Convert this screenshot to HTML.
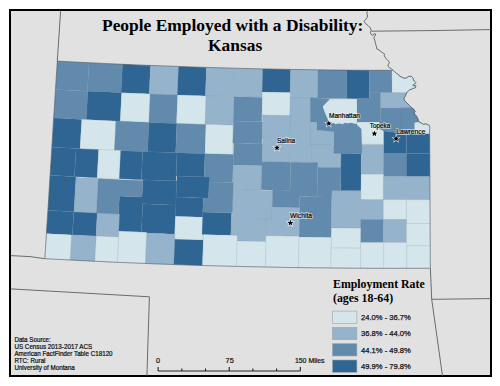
<!DOCTYPE html>
<html><head><meta charset="utf-8"><style>
html,body{margin:0;padding:0;background:#fff;}
body{width:500px;height:386px;position:relative;overflow:hidden;font-family:"Liberation Sans",sans-serif;}
#frame{position:absolute;left:9px;top:8.5px;width:479px;height:364.5px;border:2.2px solid #000;background:#e1e1e1;box-sizing:content-box;}
svg{position:absolute;left:0;top:0;}
.t{position:absolute;font-family:"Liberation Serif",serif;font-weight:bold;color:#000;white-space:nowrap;}
.s{position:absolute;font-family:"Liberation Sans",sans-serif;color:#222;white-space:nowrap;}
</style></head><body>
<div id="frame"></div>
<svg width="500" height="386" viewBox="0 0 500 386">
<g fill="none" stroke="#50565a" stroke-width="0.85">
<path d="M57.3,61.1 L60.6,11.0"/><path d="M11.0,255.6 L30.0,256.6 L44.8,258.7"/><path d="M11.0,288.9 L149.4,296.8 L146.9,376.0"/><path d="M371.6,31.2 L430.0,30.6 L490.4,29.6"/><path d="M430.4,268.3 L431.7,299.3 L442.5,376.0"/><path d="M431.7,299.3 L490.0,298.6"/><path d="M368.7,10.1 L367.4,11.7 L366.6,13.0 L367.4,14.6 L367.4,17.1 L365.8,19.2 L364.1,21.3 L365.8,23.8 L368.3,25.8 L370.4,27.9 L371.2,30.4 L370.4,32.5 L371.2,34.6 L372.8,35.4 L374.1,33.7 L375.7,34.1 L375.3,35.8 L374.1,36.6 L373.8,38.1 L374.8,40.2 L375.4,43.3 L376.4,46.4 L376.9,49.0 L379.0,50.0 L381.1,51.6 L383.1,53.1 L384.7,54.2 L384.2,55.7 L385.2,57.3 L386.8,59.4 L388.3,60.9 L389.4,62.5 L388.3,64.5 L387.8,66.1 L389.4,67.6 L391.4,68.8 L393.8,70.8 L396.2,73.2 L398.6,74.8 L399.8,76.4 L401.8,77.2 L404.2,78.4 L406.6,78.0 L408.6,76.4 L411.4,76.4 L413.0,78.0 L413.4,80.4 L415.0,81.6 L415.8,82.8 L415.0,83.6 L413.4,84.4 L412.6,85.2 L413.8,86.0 L415.8,85.6 L415.4,87.6 L413.0,88.4 L410.6,89.6 L409.8,89.4 L408.2,91.0 L407.0,92.2 L406.2,93.8 L405.4,95.8 L404.2,97.4 L403.8,99.0 L404.6,100.6 L406.2,102.2 L408.2,104.2 L410.2,106.2 L412.2,108.2 L414.2,109.8 L415.0,111.4 L414.2,113.0 L414.2,114.4 L415.0,114.4 L416.6,116.4 L417.8,118.8 L418.2,120.8 L419.0,122.0 L421.4,123.2 L423.4,124.4 L425.4,124.0 L427.0,124.4 L428.6,125.2 L429.8,126.0"/>
</g>
<g stroke="#70889a" stroke-width="0.45" stroke-opacity="0.35">
<path d="M57.3,61.1 L65.2,61.5 L73.1,61.9 L81.1,62.3 L89.0,62.7 L87.4,91.2 L79.4,90.8 L71.4,90.3 L63.5,89.9 L55.5,89.5Z" fill="#618aad"/>
<path d="M89.0,62.7 L95.7,63.1 L102.4,63.4 L109.1,63.7 L115.8,64.0 L122.5,64.3 L121.0,92.7 L114.3,92.4 L107.6,92.1 L100.8,91.8 L94.1,91.5 L87.4,91.2Z" fill="#618aad"/>
<path d="M122.5,64.3 L129.5,64.6 L136.5,64.9 L143.5,65.2 L150.5,65.4 L149.2,93.9 L142.1,93.6 L135.1,93.3 L128.1,93.0 L121.0,92.7Z" fill="#2e6593"/>
<path d="M150.5,65.4 L157.5,65.7 L164.5,66.0 L171.5,66.2 L178.5,66.5 L177.3,94.9 L170.3,94.7 L163.3,94.4 L156.2,94.2 L149.2,93.9Z" fill="#95b4cb"/>
<path d="M178.5,66.5 L185.5,66.7 L192.5,67.0 L199.4,67.2 L206.4,67.4 L205.4,95.9 L198.4,95.6 L191.4,95.4 L184.3,95.2 L177.3,94.9Z" fill="#2e6593"/>
<path d="M206.4,67.4 L213.4,67.6 L220.4,67.8 L227.3,68.0 L234.3,68.2 L233.4,96.7 L226.4,96.5 L219.4,96.3 L212.4,96.1 L205.4,95.9Z" fill="#95b4cb"/>
<path d="M234.3,68.2 L241.4,68.4 L248.5,68.5 L255.6,68.7 L262.7,68.9 L262.0,97.4 L254.9,97.2 L247.7,97.0 L240.6,96.8 L233.4,96.7Z" fill="#95b4cb"/>
<path d="M262.7,68.9 L269.7,69.0 L276.7,69.2 L283.7,69.3 L290.6,69.4 L290.2,92.6 L283.2,92.5 L276.1,92.3 L269.1,92.2 L262.1,92.1Z" fill="#2e6593"/>
<path d="M290.6,69.4 L297.5,69.5 L304.3,69.6 L311.2,69.7 L318.0,69.8 L317.6,98.3 L310.7,98.2 L303.8,98.1 L296.9,98.0 L290.1,97.9Z" fill="#95b4cb"/>
<path d="M318.0,69.8 L325.3,69.9 L332.5,70.0 L339.8,70.1 L347.0,70.1 L346.7,98.6 L339.4,98.6 L332.1,98.5 L324.9,98.4 L317.6,98.3Z" fill="#618aad"/>
<path d="M347.0,70.1 L354.5,70.2 L362.0,70.2 L369.5,70.3 L369.3,98.8 L361.8,98.7 L354.3,98.7 L346.7,98.6Z" fill="#2e6593"/>
<path d="M369.5,70.3 L377.0,70.3 L384.5,70.3 L392.0,70.3 L392.0,92.8 L384.4,92.8 L376.9,92.8 L369.4,92.8Z" fill="#618aad"/>
<path d="M55.5,89.5 L62.0,89.9 L68.4,90.2 L74.9,90.5 L81.4,90.9 L87.9,91.2 L86.2,119.6 L79.7,119.3 L73.2,119.0 L66.7,118.6 L60.2,118.3 L53.7,117.9Z" fill="#618aad"/>
<path d="M87.9,91.2 L94.6,91.5 L101.4,91.8 L108.1,92.1 L114.9,92.4 L121.6,92.7 L120.2,121.2 L113.4,120.9 L106.6,120.6 L99.8,120.3 L93.0,119.9 L86.2,119.6Z" fill="#2e6593"/>
<path d="M121.6,92.7 L128.8,93.1 L135.9,93.4 L143.0,93.6 L150.2,93.9 L148.9,122.4 L141.7,122.1 L134.5,121.8 L127.4,121.5 L120.2,121.2Z" fill="#d4e6eb"/>
<path d="M150.2,93.9 L157.0,94.2 L163.9,94.5 L170.8,94.7 L177.6,95.0 L176.5,123.4 L169.6,123.2 L162.7,122.9 L155.8,122.7 L148.9,122.4Z" fill="#618aad"/>
<path d="M177.6,95.0 L184.8,95.2 L191.9,95.4 L199.0,95.7 L206.1,95.9 L205.1,124.4 L197.9,124.1 L190.8,123.9 L183.6,123.7 L176.5,123.4Z" fill="#d4e6eb"/>
<path d="M206.1,95.9 L213.1,96.1 L220.1,96.3 L227.1,96.5 L234.0,96.7 L233.2,125.2 L226.2,125.0 L219.1,124.8 L212.1,124.6 L205.1,124.4Z" fill="#95b4cb"/>
<path d="M234.0,96.7 L241.1,96.9 L248.2,97.0 L255.2,97.2 L262.3,97.4 L261.7,121.6 L254.6,121.5 L247.5,121.3 L240.4,121.1 L233.3,121.0Z" fill="#618aad"/>
<path d="M262.4,92.1 L269.4,92.2 L276.3,92.3 L283.3,92.5 L290.3,92.6 L289.8,115.6 L282.8,115.5 L275.8,115.3 L268.8,115.2 L261.9,115.0Z" fill="#d4e6eb"/>
<path d="M290.2,97.9 L297.1,98.0 L304.1,98.1 L311.1,98.2 L310.6,127.5 L303.6,127.4 L296.6,127.3 L289.6,127.2Z" fill="#95b4cb"/>
<path d="M53.7,117.9 L60.7,118.3 L67.7,118.7 L74.7,119.0 L81.7,119.4 L80.0,148.7 L73.0,148.3 L65.9,148.0 L58.9,147.6 L51.9,147.2Z" fill="#2e6593"/>
<path d="M81.7,119.4 L88.5,119.7 L95.4,120.1 L102.2,120.4 L109.1,120.7 L115.9,121.0 L114.4,150.3 L107.6,150.0 L100.7,149.7 L93.8,149.4 L86.9,149.0 L80.0,148.7Z" fill="#d4e6eb"/>
<path d="M115.9,121.0 L122.5,121.3 L129.1,121.6 L135.7,121.9 L142.3,122.1 L148.9,122.4 L147.6,151.7 L140.9,151.5 L134.3,151.2 L127.7,150.9 L121.1,150.6 L114.4,150.3Z" fill="#618aad"/>
<path d="M148.9,122.4 L155.9,122.7 L162.9,122.9 L169.9,123.2 L176.9,123.4 L175.7,152.8 L168.7,152.5 L161.6,152.3 L154.6,152.0 L147.6,151.7Z" fill="#2e6593"/>
<path d="M176.9,123.4 L184.1,123.7 L191.4,123.9 L198.6,124.2 L205.9,124.4 L204.9,153.7 L197.6,153.5 L190.3,153.3 L183.0,153.0 L175.7,152.8Z" fill="#618aad"/>
<path d="M205.9,124.4 L212.7,124.6 L219.5,124.8 L226.3,125.0 L233.1,125.2 L232.2,154.5 L225.4,154.3 L218.5,154.1 L211.7,153.9 L204.9,153.7Z" fill="#d4e6eb"/>
<path d="M233.5,121.0 L240.7,121.2 L247.9,121.3 L255.2,121.5 L262.4,121.7 L261.8,143.7 L254.6,143.5 L247.3,143.3 L240.1,143.2 L232.8,143.0Z" fill="#618aad"/>
<path d="M262.6,115.1 L269.5,115.2 L276.4,115.3 L283.3,115.5 L290.2,115.6 L289.7,138.6 L282.8,138.5 L275.9,138.4 L268.9,138.2 L262.0,138.1Z" fill="#95b4cb"/>
<path d="M289.8,127.2 L297.4,127.3 L305.0,127.4 L312.6,127.6 L312.1,162.6 L304.4,162.4 L296.7,162.3 L289.1,162.2Z" fill="#95b4cb"/>
<path d="M311.2,121.7 L318.4,121.8 L325.5,121.9 L332.7,122.0 L332.4,145.5 L325.2,145.4 L318.0,145.3 L310.8,145.2Z" fill="#95b4cb"/>
<path d="M406.4,133.7 L414.1,133.7 L421.9,133.7 L429.6,133.7 L429.8,153.5 L422.0,153.5 L414.2,153.5 L406.4,153.5Z" fill="#2e6593"/>
<path d="M51.9,147.2 L60.0,147.6 L68.0,148.1 L76.1,148.5 L74.5,176.7 L66.4,176.2 L58.2,175.8 L50.1,175.4Z" fill="#2e6593"/>
<path d="M76.1,148.5 L83.6,148.9 L91.1,149.2 L98.6,149.6 L97.1,177.8 L89.5,177.4 L82.0,177.0 L74.5,176.7Z" fill="#2e6593"/>
<path d="M98.6,149.6 L106.0,149.9 L113.4,150.3 L120.7,150.6 L119.3,178.8 L111.9,178.5 L104.5,178.1 L97.1,177.8Z" fill="#d4e6eb"/>
<path d="M120.7,150.6 L128.1,150.9 L135.4,151.2 L142.7,151.5 L141.4,179.7 L134.0,179.4 L126.7,179.1 L119.3,178.8Z" fill="#2e6593"/>
<path d="M142.7,151.5 L149.6,151.8 L156.4,152.1 L163.3,152.3 L170.2,152.6 L177.0,152.8 L175.9,181.0 L169.0,180.8 L162.1,180.5 L155.2,180.3 L148.3,180.0 L141.4,179.7Z" fill="#2e6593"/>
<path d="M177.0,152.8 L184.0,153.1 L191.0,153.3 L198.0,153.5 L205.0,153.7 L204.2,176.9 L197.1,176.7 L190.1,176.5 L183.1,176.3 L176.1,176.0Z" fill="#2e6593"/>
<path d="M205.0,153.7 L212.1,153.9 L219.2,154.1 L226.3,154.3 L233.4,154.5 L232.6,182.7 L225.4,182.6 L218.3,182.4 L211.1,182.2 L204.0,182.0Z" fill="#618aad"/>
<path d="M233.8,143.0 L241.0,143.2 L248.2,143.4 L255.4,143.5 L262.6,143.7 L262.0,165.7 L254.8,165.5 L247.6,165.4 L240.3,165.2 L233.1,165.0Z" fill="#618aad"/>
<path d="M262.7,138.1 L269.4,138.2 L276.1,138.4 L282.8,138.5 L289.5,138.6 L289.1,162.2 L282.3,162.1 L275.6,162.0 L268.8,161.8 L262.1,161.7Z" fill="#95b4cb"/>
<path d="M312.3,145.3 L319.5,145.3 L326.7,145.4 L334.0,145.5 L341.2,145.6 L341.0,167.6 L333.7,167.5 L326.5,167.4 L319.2,167.3 L312.0,167.3Z" fill="#95b4cb"/>
<path d="M341.1,153.3 L347.8,153.3 L354.5,153.4 L361.2,153.4 L360.9,190.8 L354.2,190.8 L347.5,190.7 L340.7,190.7Z" fill="#2e6593"/>
<path d="M361.3,144.4 L368.7,144.5 L376.1,144.5 L383.6,144.5 L383.5,174.3 L376.0,174.3 L368.5,174.3 L361.1,174.2Z" fill="#95b4cb"/>
<path d="M383.6,153.5 L391.2,153.5 L398.8,153.5 L406.4,153.5 L406.4,176.6 L398.8,176.6 L391.1,176.6 L383.5,176.6Z" fill="#618aad"/>
<path d="M406.4,153.5 L414.2,153.5 L422.0,153.5 L429.8,153.5 L429.9,176.6 L422.1,176.6 L414.2,176.6 L406.4,176.6Z" fill="#2e6593"/>
<path d="M50.1,175.4 L56.6,175.7 L63.1,176.1 L69.5,176.4 L76.0,176.7 L74.0,211.8 L67.5,211.5 L61.0,211.1 L54.4,210.8 L47.9,210.4Z" fill="#2e6593"/>
<path d="M76.0,177.5 L83.4,177.9 L90.8,178.3 L98.3,178.6 L96.4,213.0 L88.9,212.7 L81.5,212.3 L74.0,211.9Z" fill="#95b4cb"/>
<path d="M119.4,196.0 L127.3,196.4 L135.2,196.7 L143.1,197.0 L141.4,232.1 L133.5,231.8 L125.6,231.5 L117.6,231.1Z" fill="#2e6593"/>
<path d="M142.8,179.8 L149.6,180.1 L156.5,180.3 L163.3,180.6 L170.1,180.8 L176.9,181.1 L176.0,205.1 L169.1,204.9 L162.3,204.6 L155.4,204.4 L148.6,204.1 L141.7,203.8Z" fill="#2e6593"/>
<path d="M142.7,203.9 L149.4,204.1 L156.0,204.4 L162.7,204.6 L169.3,204.9 L176.0,205.1 L174.8,234.1 L168.1,233.9 L161.5,233.6 L154.8,233.4 L148.1,233.1 L141.4,232.8Z" fill="#2e6593"/>
<path d="M176.9,176.1 L185.0,176.3 L193.1,176.6 L201.2,176.9 L209.3,177.1 L208.6,198.1 L200.5,197.9 L192.4,197.6 L184.2,197.4 L176.1,197.1Z" fill="#2e6593"/>
<path d="M176.1,197.1 L182.9,197.3 L189.7,197.5 L196.5,197.8 L203.3,198.0 L202.7,217.1 L195.8,216.9 L189.0,216.7 L182.2,216.4 L175.3,216.2Z" fill="#2e6593"/>
<path d="M233.1,165.0 L240.3,165.2 L247.5,165.4 L254.6,165.5 L261.8,165.7 L261.2,190.3 L254.0,190.2 L246.8,190.0 L239.6,189.8 L232.4,189.6Z" fill="#95b4cb"/>
<path d="M261.9,161.7 L269.1,161.8 L276.3,162.0 L283.5,162.1 L290.7,162.2 L290.1,190.2 L282.9,190.1 L275.7,190.0 L268.4,189.9 L261.2,189.7Z" fill="#618aad"/>
<path d="M290.7,162.2 L297.4,162.3 L304.2,162.4 L310.9,162.5 L317.6,162.6 L317.1,196.8 L310.4,196.7 L303.6,196.6 L296.8,196.6 L290.0,196.4Z" fill="#618aad"/>
<path d="M317.6,167.3 L325.4,167.4 L333.1,167.5 L341.0,167.6 L340.6,197.1 L332.8,197.0 L325.0,196.9 L317.1,196.8Z" fill="#618aad"/>
<path d="M233.1,189.7 L241.0,189.9 L248.9,190.0 L256.8,190.2 L264.7,190.4 L272.6,190.5 L272.0,219.1 L264.0,219.0 L256.1,218.8 L248.1,218.7 L240.2,218.5 L232.2,218.3Z" fill="#95b4cb"/>
<path d="M272.6,189.9 L279.4,190.1 L286.2,190.2 L292.9,190.3 L299.7,190.4 L299.4,207.8 L292.6,207.7 L285.8,207.6 L279.0,207.5 L272.2,207.3Z" fill="#618aad"/>
<path d="M361.1,174.2 L368.5,174.3 L376.0,174.3 L383.5,174.3 L383.4,199.7 L375.9,199.7 L368.4,199.7 L360.9,199.6Z" fill="#d4e6eb"/>
<path d="M383.5,176.6 L391.1,176.6 L398.8,176.6 L406.4,176.6 L406.5,199.7 L398.8,199.7 L391.1,199.7 L383.4,199.7Z" fill="#95b4cb"/>
<path d="M406.4,176.6 L414.2,176.6 L422.1,176.6 L429.9,176.6 L430.0,199.7 L422.2,199.7 L414.3,199.7 L406.5,199.7Z" fill="#95b4cb"/>
<path d="M47.9,210.4 L54.4,210.8 L60.8,211.1 L67.3,211.5 L73.8,211.8 L72.4,234.9 L65.9,234.6 L59.4,234.3 L52.9,233.9 L46.4,233.6Z" fill="#2e6593"/>
<path d="M73.8,211.9 L81.6,212.3 L89.4,212.7 L97.2,213.1 L96.0,236.1 L88.1,235.7 L80.3,235.3 L72.4,234.9Z" fill="#2e6593"/>
<path d="M97.2,213.1 L104.7,213.4 L112.2,213.8 L119.6,214.1 L118.5,237.1 L111.0,236.7 L103.5,236.4 L96.0,236.0Z" fill="#95b4cb"/>
<path d="M175.3,216.2 L182.4,216.5 L189.6,216.7 L196.7,216.9 L203.8,217.1 L203.0,240.1 L195.8,239.9 L188.7,239.7 L181.5,239.4 L174.4,239.2Z" fill="#d4e6eb"/>
<path d="M202.8,212.0 L210.0,212.2 L217.2,212.4 L224.3,212.6 L231.5,212.8 L230.8,235.2 L223.6,235.1 L216.4,234.9 L209.2,234.7 L202.0,234.5Z" fill="#2e6593"/>
<path d="M231.3,218.3 L238.3,218.4 L245.2,218.6 L252.1,218.8 L259.1,218.9 L266.0,219.0 L265.5,241.6 L258.5,241.5 L251.5,241.3 L244.6,241.2 L237.6,241.0 L230.6,240.8Z" fill="#95b4cb"/>
<path d="M299.6,196.6 L307.6,196.7 L315.7,196.8 L323.7,196.9 L331.7,197.0 L331.2,237.4 L323.1,237.3 L315.0,237.2 L307.0,237.1 L298.9,237.0Z" fill="#618aad"/>
<path d="M331.8,190.6 L339.1,190.7 L346.3,190.7 L353.6,190.8 L360.8,190.8 L360.6,228.2 L353.3,228.2 L346.0,228.1 L338.7,228.1 L331.4,228.0Z" fill="#95b4cb"/>
<path d="M360.8,199.6 L368.3,199.7 L375.9,199.7 L383.4,199.7 L383.4,219.5 L375.8,219.5 L368.2,219.5 L360.6,219.4Z" fill="#95b4cb"/>
<path d="M383.4,199.7 L391.1,199.7 L398.8,199.7 L406.5,199.7 L406.5,219.5 L398.8,219.5 L391.1,219.5 L383.4,219.5Z" fill="#d4e6eb"/>
<path d="M406.5,199.7 L414.3,199.7 L422.2,199.7 L430.0,199.7 L430.1,223.5 L422.2,223.5 L414.4,223.5 L406.5,223.5Z" fill="#d4e6eb"/>
<path d="M360.6,219.4 L368.2,219.5 L375.8,219.5 L383.4,219.5 L383.3,242.6 L375.7,242.6 L368.1,242.6 L360.5,242.5Z" fill="#618aad"/>
<path d="M383.4,219.5 L391.1,219.5 L398.8,219.5 L406.5,219.5 L406.5,242.6 L398.8,242.6 L391.0,242.6 L383.3,242.6Z" fill="#95b4cb"/>
<path d="M406.5,223.5 L414.4,223.5 L422.2,223.5 L430.1,223.5 L430.3,245.9 L422.3,245.9 L414.4,245.9 L406.5,245.9Z" fill="#d4e6eb"/>
<path d="M331.4,228.0 L338.7,228.1 L346.0,228.1 L353.3,228.2 L360.6,228.2 L360.4,248.2 L353.1,248.2 L345.8,248.1 L338.4,248.1 L331.1,248.0Z" fill="#d4e6eb"/>
<path d="M46.4,233.6 L52.7,233.9 L59.1,234.2 L65.4,234.6 L71.7,234.9 L70.2,260.0 L63.9,259.7 L57.5,259.4 L51.2,259.0 L44.8,258.7Z" fill="#d4e6eb"/>
<path d="M71.7,234.9 L79.9,235.3 L88.1,235.7 L96.3,236.1 L94.9,261.3 L86.7,260.9 L78.4,260.5 L70.2,260.0Z" fill="#95b4cb"/>
<path d="M96.3,236.0 L103.7,236.4 L111.2,236.7 L118.7,237.1 L117.4,262.3 L109.9,262.0 L102.4,261.6 L94.9,261.3Z" fill="#d4e6eb"/>
<path d="M119.0,231.2 L125.9,231.5 L132.9,231.8 L139.8,232.1 L146.8,232.3 L145.4,263.5 L138.4,263.2 L131.4,262.9 L124.4,262.6 L117.4,262.3Z" fill="#d4e6eb"/>
<path d="M146.8,233.0 L153.8,233.3 L160.9,233.6 L168.0,233.9 L175.0,234.1 L173.8,264.6 L166.7,264.3 L159.6,264.0 L152.5,263.8 L145.4,263.5Z" fill="#95b4cb"/>
<path d="M174.8,239.2 L181.9,239.4 L189.0,239.7 L196.2,239.9 L203.3,240.1 L202.4,265.5 L195.2,265.3 L188.1,265.0 L180.9,264.8 L173.8,264.6Z" fill="#2e6593"/>
<path d="M203.5,234.5 L210.3,234.7 L217.0,234.9 L223.8,235.1 L230.6,235.2 L237.4,235.4 L236.5,266.4 L229.6,266.2 L222.8,266.0 L216.0,265.9 L209.2,265.7 L202.4,265.5Z" fill="#d4e6eb"/>
<path d="M237.2,241.0 L244.4,241.2 L251.6,241.3 L258.9,241.5 L266.1,241.6 L265.5,267.0 L258.2,266.9 L251.0,266.7 L243.7,266.6 L236.5,266.4Z" fill="#d4e6eb"/>
<path d="M266.2,235.5 L272.8,235.7 L279.4,235.8 L286.0,235.9 L292.5,236.0 L299.1,236.1 L298.5,267.6 L291.9,267.5 L285.3,267.4 L278.7,267.3 L272.1,267.2 L265.5,267.0Z" fill="#d4e6eb"/>
<path d="M299.1,237.0 L307.1,237.1 L315.1,237.2 L323.2,237.3 L331.2,237.4 L330.9,268.0 L322.8,267.9 L314.7,267.8 L306.6,267.7 L298.5,267.6Z" fill="#d4e6eb"/>
<path d="M331.1,248.0 L338.5,248.1 L345.9,248.1 L353.3,248.2 L360.7,248.2 L360.6,268.2 L353.2,268.2 L345.7,268.1 L338.3,268.1 L330.9,268.0Z" fill="#d4e6eb"/>
<path d="M360.8,242.5 L368.5,242.6 L376.1,242.6 L383.8,242.6 L383.7,268.3 L376.0,268.3 L368.3,268.3 L360.6,268.2Z" fill="#d4e6eb"/>
<path d="M383.8,242.6 L391.5,242.6 L399.1,242.6 L406.8,242.6 L406.8,268.3 L399.1,268.3 L391.4,268.3 L383.7,268.3Z" fill="#d4e6eb"/>
<path d="M406.8,245.9 L414.6,245.9 L422.4,245.9 L430.3,245.9 L430.4,268.3 L422.5,268.3 L414.7,268.3 L406.8,268.3Z" fill="#d4e6eb"/>
<path d="M98.3,178.6 L105.7,179.0 L113.1,179.3 L120.5,179.7 L127.9,180.0 L135.4,180.3 L142.8,180.6 L142.0,197.0 L134.5,196.7 L126.9,196.4 L119.4,196.0 L118.5,214.1 L111.1,213.7 L103.8,213.4 L96.4,213.0Z" fill="#618aad"/>
<path d="M209.2,182.1 L217.2,182.3 L225.2,182.6 L233.3,182.8 L232.4,212.8 L225.0,212.6 L217.6,212.4 L210.2,212.2 L202.8,212.0 L203.3,198.0 L208.6,198.1Z" fill="#618aad"/>
<path d="M272.2,207.3 L279.1,207.5 L286.0,207.6 L292.9,207.7 L299.8,207.8 L299.3,236.1 L292.6,236.0 L285.8,235.9 L279.1,235.8 L272.4,235.7 L265.6,235.5 L266.0,219.0 L272.0,219.1Z" fill="#95b4cb"/>
<path d="M357.0,98.3 L369.5,98.3 L369.5,92.5 L380.7,92.5 L380.7,122.2 L357.0,122.2Z" fill="#618aad"/>
<path d="M310.4,97.6 L330.0,99.1 L322.8,106.4 L324.9,112.6 L329.0,122.0 L333.8,124.0 L333.8,131.8 L317.0,130.0 L317.0,122.0 L310.4,122.0Z" fill="#618aad"/>
<path d="M326.4,123.0 L357.0,123.0 L361.5,129.0 L362.0,153.4 L333.8,153.4 L333.8,131.8Z" fill="#618aad"/>
<path d="M330.0,99.1 L357.0,99.1 L357.0,121.4 L357.0,124.2 L353.5,123.5 L350.6,122.8 L347.8,123.5 L344.9,122.8 L342.8,124.2 L339.2,123.5 L335.7,124.2 L332.8,122.8 L330.0,123.5 L329.0,122.0 L324.9,112.6 L322.8,106.4Z" fill="#d4e6eb"/>
<path d="M310.4,122.0 L317.0,122.0 L317.0,130.0 L333.8,131.8 L333.8,144.6 L310.4,144.6Z" fill="#95b4cb"/>
<path d="M357.0,122.0 L379.5,122.0 L379.5,128.5 L384.0,131.0 L384.0,144.2 L362.0,144.2 L361.5,129.0 L357.0,125.0Z" fill="#d4e6eb"/>
<path d="M380.7,107.8 L401.0,107.8 L401.0,134.5 L397.0,133.5 L393.0,132.0 L388.0,131.5 L384.0,131.0 L379.5,128.5 L379.5,121.4 L380.7,121.4Z" fill="#618aad"/>
<path d="M379.5,128.5 L384.0,131.0 L388.0,131.5 L393.0,132.0 L397.0,133.5 L401.0,134.5 L406.3,135.0 L406.3,153.4 L383.8,153.4 L383.8,131.0Z" fill="#2e6593"/>
<path d="M391.8,69.6 L393.8,70.8 L396.2,73.2 L398.6,74.8 L399.8,76.4 L401.8,77.2 L404.2,78.4 L406.6,78.0 L408.6,76.4 L411.4,76.4 L413.0,78.0 L413.4,80.4 L415.0,81.6 L415.8,82.8 L415.0,83.6 L413.4,84.4 L412.6,85.2 L413.8,86.0 L415.8,85.6 L415.4,87.6 L413.0,88.4 L410.6,89.6 L409.8,89.4 L408.2,91.0 L407.0,92.2 L406.6,92.8 L392.0,92.6Z" fill="#d4e6eb"/>
<path d="M380.7,92.6 L406.6,92.8 L406.2,93.8 L405.4,95.8 L404.2,97.4 L403.8,99.0 L404.6,100.6 L406.2,102.2 L408.2,104.2 L410.2,106.2 L412.2,108.2 L380.7,108.0Z" fill="#95b4cb"/>
<path d="M401.0,107.8 L412.2,107.8 L414.2,109.8 L415.0,111.4 L414.2,113.0 L414.2,114.4 L415.0,114.4 L416.6,116.4 L417.8,118.8 L418.2,120.8 L419.0,122.0 L414.6,122.8 L414.6,133.4 L406.3,135.0 L401.0,134.5Z" fill="#618aad"/>
<path d="M414.6,122.8 L419.0,122.0 L421.4,123.2 L423.4,124.4 L425.4,124.0 L427.0,124.4 L428.6,125.2 L429.8,126.0 L429.8,133.4 L414.6,133.4Z" fill="#d4e6eb"/>
</g>
<path d="M57.3,61.1 L65.7,61.5 L74.1,62.0 L82.4,62.4 L90.8,62.8 L99.2,63.2 L107.6,63.6 L116.0,64.0 L124.3,64.4 L132.7,64.7 L141.1,65.1 L149.5,65.4 L157.9,65.7 L166.2,66.0 L174.6,66.3 L183.0,66.6 L191.3,66.9 L199.7,67.2 L208.0,67.4 L216.4,67.7 L224.8,67.9 L233.1,68.2 L241.5,68.4 L249.8,68.6 L258.2,68.8 L266.5,68.9 L274.9,69.1 L283.2,69.3 L291.6,69.4 L299.9,69.6 L308.3,69.7 L316.6,69.8 L325.0,69.9 L333.3,70.0 L341.7,70.1 L350.1,70.2 L358.5,70.2 L366.9,70.3 L375.2,70.3 L383.6,70.3 L392.0,70.3 L393.8,70.8 L396.2,73.2 L398.6,74.8 L399.8,76.4 L401.8,77.2 L404.2,78.4 L406.6,78.0 L408.6,76.4 L411.4,76.4 L413.0,78.0 L413.4,80.4 L415.0,81.6 L415.8,82.8 L415.0,83.6 L413.4,84.4 L412.6,85.2 L413.8,86.0 L415.8,85.6 L415.4,87.6 L413.0,88.4 L410.6,89.6 L409.8,89.4 L408.2,91.0 L407.0,92.2 L406.2,93.8 L405.4,95.8 L404.2,97.4 L403.8,99.0 L404.6,100.6 L406.2,102.2 L408.2,104.2 L410.2,106.2 L412.2,108.2 L414.2,109.8 L415.0,111.4 L414.2,113.0 L414.2,114.4 L415.0,114.4 L416.6,116.4 L417.8,118.8 L418.2,120.8 L419.0,122.0 L421.4,123.2 L423.4,124.4 L425.4,124.0 L427.0,124.4 L428.6,125.2 L429.8,126.0 L429.8,126.0 L429.6,131.0 L429.7,135.7 L429.7,140.5 L429.7,145.2 L429.7,149.9 L429.8,154.7 L429.8,159.4 L429.8,164.1 L429.8,168.9 L429.9,173.6 L429.9,178.3 L429.9,183.1 L429.9,187.8 L430.0,192.5 L430.0,197.3 L430.0,202.0 L430.0,206.7 L430.1,211.5 L430.1,216.2 L430.1,220.9 L430.1,225.7 L430.2,230.4 L430.2,235.1 L430.2,239.9 L430.2,244.6 L430.3,249.3 L430.3,254.1 L430.3,258.8 L430.3,263.5 L430.4,268.3 L420.7,268.3 L411.1,268.3 L401.4,268.3 L391.8,268.3 L382.1,268.3 L372.5,268.3 L362.8,268.2 L353.1,268.2 L343.5,268.1 L333.8,268.0 L324.2,267.9 L314.6,267.8 L305.0,267.7 L295.3,267.5 L285.7,267.4 L276.1,267.2 L266.5,267.0 L256.9,266.8 L247.3,266.6 L237.6,266.4 L228.0,266.2 L218.4,265.9 L208.8,265.7 L199.2,265.4 L189.6,265.1 L180.0,264.8 L170.3,264.4 L160.7,264.1 L151.0,263.7 L141.4,263.3 L131.7,262.9 L122.1,262.5 L112.4,262.1 L102.8,261.6 L93.1,261.2 L83.4,260.7 L73.8,260.2 L64.1,259.7 L54.5,259.2 L44.8,258.7 L45.5,248.8 L46.1,238.9 L46.7,229.1 L47.3,219.2 L48.0,209.3 L48.6,199.4 L49.2,189.6 L49.8,179.7 L50.4,169.8 L51.1,159.9 L51.7,150.0 L52.3,140.1 L52.9,130.2 L53.5,120.3 L54.2,110.4 L54.8,100.6 L55.4,90.7 L56.0,80.8 L56.7,71.0 L57.3,61.1" fill="none" stroke="#4f5a63" stroke-width="0.7" stroke-opacity="0.8"/>
<path d="M328.80,120.30 L329.59,122.41 L331.84,122.51 L330.08,123.92 L330.68,126.09 L328.80,124.84 L326.92,126.09 L327.52,123.92 L325.76,122.51 L328.01,122.41Z" fill="#000" stroke="#fff" stroke-width="1.2" paint-order="stroke" stroke-opacity="0.85"/>
<text x="329.0" y="118.0" font-family="Liberation Sans" font-size="6.6" fill="#eef2f4" stroke="#eef2f4" stroke-opacity="0.7" stroke-width="1.5" textLength="31.0" lengthAdjust="spacingAndGlyphs">Manhattan</text>
<text x="329.0" y="118.0" font-family="Liberation Sans" font-size="6.6" fill="#000" stroke="#000" stroke-width="0.2" textLength="31.0" lengthAdjust="spacingAndGlyphs">Manhattan</text>
<path d="M374.40,130.50 L375.19,132.61 L377.44,132.71 L375.68,134.12 L376.28,136.29 L374.40,135.04 L372.52,136.29 L373.12,134.12 L371.36,132.71 L373.61,132.61Z" fill="#000" stroke="#fff" stroke-width="1.2" paint-order="stroke" stroke-opacity="0.85"/>
<text x="369.7" y="127.9" font-family="Liberation Sans" font-size="6.6" fill="#eef2f4" stroke="#eef2f4" stroke-opacity="0.7" stroke-width="1.5" textLength="20.6" lengthAdjust="spacingAndGlyphs">Topeka</text>
<text x="369.7" y="127.9" font-family="Liberation Sans" font-size="6.6" fill="#000" stroke="#000" stroke-width="0.2" textLength="20.6" lengthAdjust="spacingAndGlyphs">Topeka</text>
<path d="M396.10,135.50 L396.89,137.61 L399.14,137.71 L397.38,139.12 L397.98,141.29 L396.10,140.04 L394.22,141.29 L394.82,139.12 L393.06,137.71 L395.31,137.61Z" fill="#000" stroke="#fff" stroke-width="1.2" paint-order="stroke" stroke-opacity="0.85"/>
<text x="396.2" y="133.9" font-family="Liberation Sans" font-size="6.6" fill="#eef2f4" stroke="#eef2f4" stroke-opacity="0.7" stroke-width="1.5" textLength="29.3" lengthAdjust="spacingAndGlyphs">Lawrence</text>
<text x="396.2" y="133.9" font-family="Liberation Sans" font-size="6.6" fill="#000" stroke="#000" stroke-width="0.2" textLength="29.3" lengthAdjust="spacingAndGlyphs">Lawrence</text>
<path d="M277.00,144.60 L277.79,146.71 L280.04,146.81 L278.28,148.22 L278.88,150.39 L277.00,149.14 L275.12,150.39 L275.72,148.22 L273.96,146.81 L276.21,146.71Z" fill="#000" stroke="#fff" stroke-width="1.2" paint-order="stroke" stroke-opacity="0.85"/>
<text x="277.0" y="142.6" font-family="Liberation Sans" font-size="6.6" fill="#eef2f4" stroke="#eef2f4" stroke-opacity="0.7" stroke-width="1.5" textLength="18.2" lengthAdjust="spacingAndGlyphs">Salina</text>
<text x="277.0" y="142.6" font-family="Liberation Sans" font-size="6.6" fill="#000" stroke="#000" stroke-width="0.2" textLength="18.2" lengthAdjust="spacingAndGlyphs">Salina</text>
<path d="M290.40,219.80 L291.19,221.91 L293.44,222.01 L291.68,223.42 L292.28,225.59 L290.40,224.34 L288.52,225.59 L289.12,223.42 L287.36,222.01 L289.61,221.91Z" fill="#000" stroke="#fff" stroke-width="1.2" paint-order="stroke" stroke-opacity="0.85"/>
<text x="290.0" y="217.6" font-family="Liberation Sans" font-size="6.6" fill="#eef2f4" stroke="#eef2f4" stroke-opacity="0.7" stroke-width="1.5" textLength="22.0" lengthAdjust="spacingAndGlyphs">Wichita</text>
<text x="290.0" y="217.6" font-family="Liberation Sans" font-size="6.6" fill="#000" stroke="#000" stroke-width="0.2" textLength="22.0" lengthAdjust="spacingAndGlyphs">Wichita</text>
<rect x="332.5" y="311.1" width="24.4" height="12.3" fill="#d4e6eb" stroke="#9aa3aa" stroke-width="0.6"/>
<rect x="332.5" y="327.4" width="24.4" height="12.3" fill="#95b4cb" stroke="#9aa3aa" stroke-width="0.6"/>
<rect x="332.5" y="343.7" width="24.4" height="12.3" fill="#618aad" stroke="#9aa3aa" stroke-width="0.6"/>
<rect x="332.5" y="360.0" width="24.4" height="12.3" fill="#2e6593" stroke="#9aa3aa" stroke-width="0.6"/>
<text x="361" y="320.1" font-family="Liberation Sans" font-size="8.1" fill="#111" stroke="#111" stroke-width="0.25" textLength="49.8" lengthAdjust="spacingAndGlyphs">24.0% - 36.7%</text>
<text x="361" y="336.4" font-family="Liberation Sans" font-size="8.1" fill="#111" stroke="#111" stroke-width="0.25" textLength="49.8" lengthAdjust="spacingAndGlyphs">36.8% - 44.0%</text>
<text x="361" y="352.7" font-family="Liberation Sans" font-size="8.1" fill="#111" stroke="#111" stroke-width="0.25" textLength="49.8" lengthAdjust="spacingAndGlyphs">44.1% - 49.8%</text>
<text x="361" y="369.0" font-family="Liberation Sans" font-size="8.1" fill="#111" stroke="#111" stroke-width="0.25" textLength="49.8" lengthAdjust="spacingAndGlyphs">49.9% - 79.8%</text>
<path d="M158.1,371 L300.3,371 M158.1,371 L158.1,367.0 M181.8,371 L181.8,368.5 M205.5,371 L205.5,368.5 M229.2,371 L229.2,367.0 M252.9,371 L252.9,368.5 M276.6,371 L276.6,368.5 M300.3,371 L300.3,367.0" stroke="#222" stroke-width="1.1" fill="none"/>
<text x="155.9" y="363" font-family="Liberation Sans" font-size="7.3" fill="#111" stroke="#111" stroke-width="0.2">0</text>
<text x="225.6" y="363" font-family="Liberation Sans" font-size="7.3" fill="#111" stroke="#111" stroke-width="0.2">75</text>
<text x="294.9" y="363" font-family="Liberation Sans" font-size="6.95" fill="#111" stroke="#111" stroke-width="0.2">150 Miles</text>
<text x="14.4" y="342.3" font-family="Liberation Sans" font-size="6.7" fill="#111" stroke="#111" stroke-width="0.22" textLength="36.4" lengthAdjust="spacingAndGlyphs">Data Source:</text>
<text x="14.4" y="349.2" font-family="Liberation Sans" font-size="6.7" fill="#111" stroke="#111" stroke-width="0.22" textLength="77.8" lengthAdjust="spacingAndGlyphs">US Census 2013-2017 ACS</text>
<text x="14.4" y="356.1" font-family="Liberation Sans" font-size="6.7" fill="#111" stroke="#111" stroke-width="0.22" textLength="98.2" lengthAdjust="spacingAndGlyphs">American FactFinder Table C18120</text>
<text x="14.4" y="363.0" font-family="Liberation Sans" font-size="6.7" fill="#111" stroke="#111" stroke-width="0.22" textLength="31.1" lengthAdjust="spacingAndGlyphs">RTC: Rural</text>
<text x="14.4" y="369.9" font-family="Liberation Sans" font-size="6.7" fill="#111" stroke="#111" stroke-width="0.22" textLength="60.4" lengthAdjust="spacingAndGlyphs">University of Montana</text>
</svg>
<div class="t" style="left:102px;top:15px;font-size:17.43px;">People Employed with a Disability:</div>
<div class="t" style="left:208px;top:35px;font-size:17.43px;">Kansas</div>
<div class="t" style="left:333px;top:277.3px;font-size:12.4px;transform:scaleX(0.955);transform-origin:0 0;">Employment Rate</div>
<div class="t" style="left:333px;top:291.3px;font-size:12.4px;transform:scaleX(0.955);transform-origin:0 0;">(ages 18-64)</div>
</body></html>
